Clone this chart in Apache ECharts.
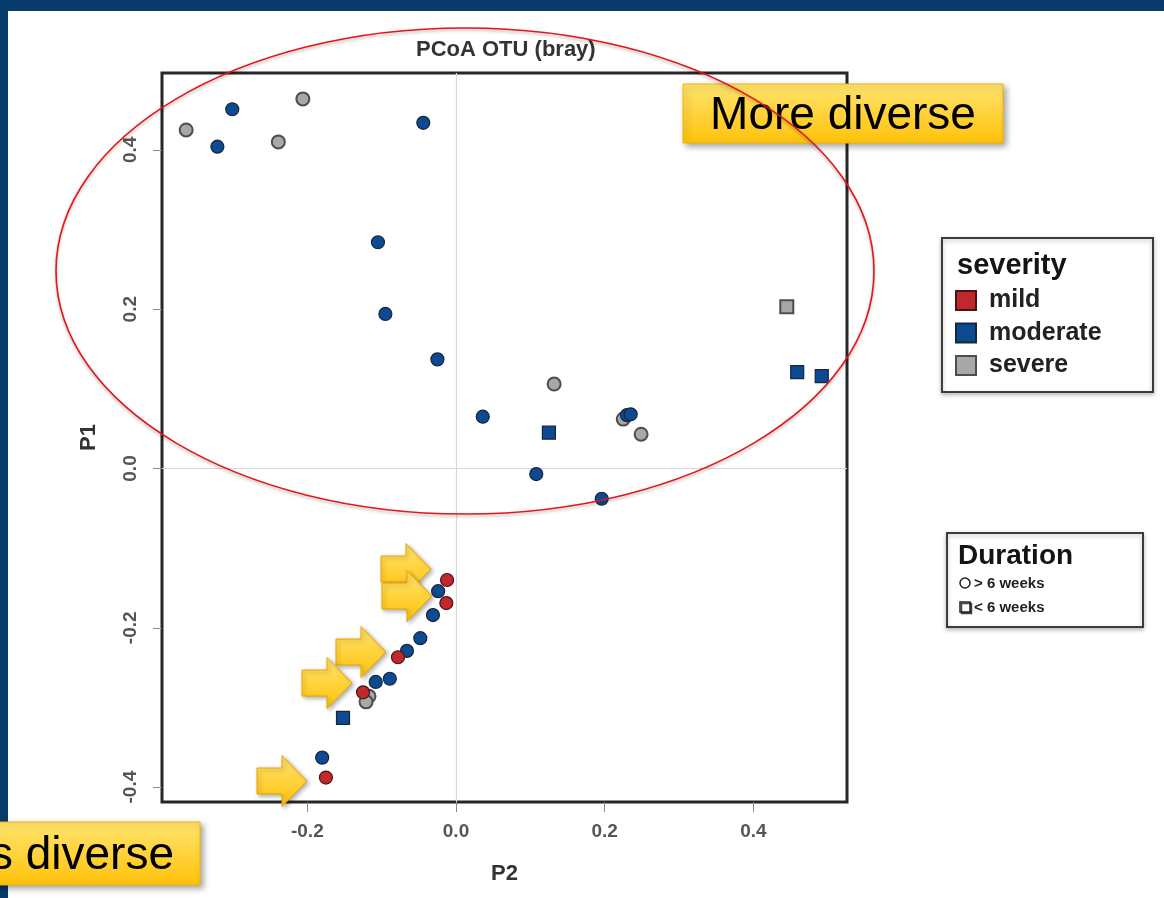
<!DOCTYPE html>
<html>
<head>
<meta charset="utf-8">
<title>PCoA OTU (bray)</title>
<script src="https://cdn.jsdelivr.net/npm/echarts@6/dist/echarts.min.js"></script>
<style>
  html, body { margin: 0; padding: 0; background: #fff; }
  #main { width: 1164px; height: 898px; }
</style>
</head>
<body>
<div id="main"></div>
<script>
// axis ticks
var p2Ticks = [-0.2, 0, 0.2, 0.4];
var p1Ticks = [-0.4, -0.2, 0, 0.2, 0.4];

// points as [P2, P1]
// mild, > 6 weeks
var mildCircle = [[-0.012, -0.140], [-0.013, -0.169], [-0.078, -0.237], [-0.125, -0.281], [-0.175, -0.388]];
// moderate, > 6 weeks
var moderateCircle = [
  [-0.301, 0.451], [-0.321, 0.404], [-0.044, 0.434], [-0.105, 0.284], [-0.095, 0.194],
  [-0.025, 0.137], [0.036, 0.065], [0.108, -0.007], [0.196, -0.038], [0.230, 0.067],
  [0.235, 0.068], [-0.024, -0.154], [-0.031, -0.184], [-0.048, -0.213], [-0.066, -0.229],
  [-0.089, -0.264], [-0.108, -0.268], [-0.180, -0.363]
];
// moderate, < 6 weeks
var moderateSquare = [[0.125, 0.045], [0.459, 0.121], [0.492, 0.116], [-0.152, -0.313]];
// severe, > 6 weeks
var severeCircle = [
  [-0.363, 0.425], [-0.206, 0.464], [-0.239, 0.410], [0.132, 0.106],
  [0.225, 0.062], [0.249, 0.043], [-0.117, -0.286], [-0.121, -0.293]
];
// severe, < 6 weeks
var severeSquare = [[0.445, 0.203]];

var severityNames = ['mild', 'moderate', 'severe'];
var durationLabels = ['> 6 weeks', '< 6 weeks'];

// slide annotations (pixel layout)
var arrowTips = [[431, 569], [432, 596], [386, 652], [352, 683], [307, 781]];

var FONT = 'Liberation Sans, Arial, sans-serif';
var colors = {
  mild: { fill: '#c0282c', border: '#4a1416' },
  moderate: { fill: '#0c4a91', border: '#18253d' },
  severe: { fill: '#a8a8a8', border: '#4e4e4e' }
};

function pointSeries(name, shape, data) {
  return {
    type: 'scatter',
    name: name,
    data: data,
    symbol: shape,
    symbolSize: 13,
    z: 2,
    itemStyle: {
      color: colors[name].fill,
      borderColor: colors[name].border,
      borderWidth: name === 'severe' ? 2 : 1.2,
      opacity: 1
    }
  };
}

var yellow = new echarts.graphic.LinearGradient(0, 0, 0, 1, [
  { offset: 0, color: '#ffe46e' },
  { offset: 1, color: '#ffc20a' }
]);

function arrow(tip) {
  return {
    type: 'polygon',
    x: tip[0], y: tip[1],
    z: 100,
    shape: { points: [[-50, -13], [-25, -13], [-25, -25.5], [0, 0], [-25, 25.5], [-25, 13], [-50, 13]] },
    style: {
      fill: yellow, stroke: '#e9a400', lineWidth: 1,
      shadowBlur: 4, shadowOffsetX: 2, shadowOffsetY: 2, shadowColor: 'rgba(0,0,0,0.3)'
    }
  };
}

var graphics = [
  // slide frame
  { type: 'rect', z: 0, shape: { x: 0, y: 0, width: 1164, height: 11 }, style: { fill: '#063b6c' } },
  { type: 'rect', z: 0, shape: { x: 0, y: 0, width: 8, height: 898 }, style: { fill: '#063b6c' } },
  // severity legend box
  { type: 'rect', z: 1, shape: { x: 942, y: 238, width: 211, height: 154 },
    style: { fill: '#fff', stroke: '#3c3c3c', lineWidth: 2, shadowBlur: 4, shadowOffsetY: 2, shadowColor: 'rgba(0,0,0,0.25)' } },
  { type: 'text', z: 5, style: { text: 'severity', x: 957, y: 266, font: 'bold 29px ' + FONT, fill: '#141414', verticalAlign: 'middle' } },
  // duration legend box
  { type: 'rect', z: 1, shape: { x: 947, y: 533, width: 196, height: 94 },
    style: { fill: '#fff', stroke: '#3c3c3c', lineWidth: 2, shadowBlur: 4, shadowOffsetY: 2, shadowColor: 'rgba(0,0,0,0.25)' } },
  { type: 'text', z: 5, style: { text: 'Duration', x: 958, y: 556, font: 'bold 28px ' + FONT, fill: '#141414', verticalAlign: 'middle' } },
  { type: 'circle', z: 5, shape: { cx: 965, cy: 583, r: 5 }, style: { fill: '#fff', stroke: '#222', lineWidth: 1.5 } },
  { type: 'rect', z: 5, shape: { x: 960, y: 602, width: 10, height: 10 }, style: { fill: '#fff', stroke: '#222', lineWidth: 1.5, shadowOffsetX: 1.5, shadowOffsetY: 1.5, shadowColor: '#444' } },
  { type: 'text', z: 5, style: { text: durationLabels[0], x: 974, y: 584, font: 'bold 15px Liberation Sans Narrow, ' + FONT, fill: '#222', verticalAlign: 'middle' } },
  { type: 'text', z: 5, style: { text: durationLabels[1], x: 974, y: 608, font: 'bold 15px Liberation Sans Narrow, ' + FONT, fill: '#222', verticalAlign: 'middle' } },
  // callout boxes
  { type: 'rect', z: 110, shape: { x: 683, y: 84, width: 320, height: 59 },
    style: { fill: yellow, stroke: '#f0b400', lineWidth: 1, shadowBlur: 6, shadowOffsetX: 3, shadowOffsetY: 3, shadowColor: 'rgba(0,0,0,0.35)' } },
  { type: 'text', z: 111, style: { text: 'More diverse', x: 843, y: 116, font: '46px ' + FONT, fill: '#000', align: 'center', verticalAlign: 'middle' } },
  { type: 'rect', z: 110, shape: { x: -10, y: 822, width: 210, height: 63 },
    style: { fill: yellow, stroke: '#f0b400', lineWidth: 1, shadowBlur: 6, shadowOffsetX: 3, shadowOffsetY: 3, shadowColor: 'rgba(0,0,0,0.35)' } },
  { type: 'text', z: 111, style: { text: 's diverse', x: 174, y: 856, font: '46px ' + FONT, fill: '#000', align: 'right', verticalAlign: 'middle' } }
];
arrowTips.forEach(function (t) { graphics.push(arrow(t)); });
graphics.push({
  type: 'ellipse', z: 120,
  shape: { cx: 465, cy: 271, rx: 409, ry: 243 },
  style: { fill: 'none', stroke: '#e6141b', lineWidth: 1.6, shadowBlur: 3, shadowOffsetY: 2, shadowColor: 'rgba(0,0,0,0.3)' }
});

var chart = echarts.init(document.getElementById('main'));
var fmt = function (v) { return v.toFixed(1); };

var option = {
  animation: false,
  backgroundColor: '#fff',
  textStyle: { fontFamily: FONT },
  title: {
    text: 'PCoA OTU (bray)',
    left: 411, top: 34,
    textStyle: { fontSize: 22, fontWeight: 'bold', color: '#333', fontFamily: FONT }
  },
  legend: {
    data: severityNames,
    orient: 'vertical',
    left: 955, top: 288,
    padding: 0,
    icon: 'rect',
    itemWidth: 20, itemHeight: 19, itemGap: 7.5,
    textStyle: { fontSize: 25, fontWeight: 'bold', color: '#222', padding: [0, 0, 0, 8] }
  },
  grid: {
    left: 162, top: 73, width: 685, height: 729,
    show: true, borderColor: '#262626', borderWidth: 3, backgroundColor: '#fff'
  },
  xAxis: {
    type: 'value', min: -0.3955, max: 0.526,
    name: 'P2', nameLocation: 'middle', nameGap: 61,
    nameTextStyle: { fontSize: 22, fontWeight: 'bold', color: '#333' },
    axisLine: { show: false, onZero: false },
    axisTick: { show: true, length: 10, customValues: p2Ticks, lineStyle: { color: '#888' } },
    axisLabel: { customValues: p2Ticks, formatter: fmt, margin: 20, fontSize: 19, fontWeight: 'bold', color: '#555' },
    splitLine: { show: false }
  },
  yAxis: {
    type: 'value', min: -0.4187, max: 0.4965,
    name: 'P1', nameLocation: 'middle', nameGap: 62,
    nameTextStyle: { fontSize: 22, fontWeight: 'bold', color: '#333' },
    axisLine: { show: false, onZero: false },
    axisTick: { show: true, length: 9, customValues: p1Ticks, lineStyle: { color: '#888' } },
    axisLabel: { customValues: p1Ticks, formatter: fmt, rotate: 90, margin: 22, fontSize: 19, fontWeight: 'bold', color: '#555' },
    splitLine: { show: false }
  },
  series: [
    {
      type: 'scatter', name: 'zero', data: [], z: 1,
      markLine: {
        silent: true, symbol: 'none', z: 1,
        label: { show: false },
        lineStyle: { color: '#d8d8d8', width: 1.2, type: 'solid' },
        data: [{ xAxis: 0 }, { yAxis: 0 }]
      }
    },
    pointSeries('severe', 'circle', severeCircle),
    pointSeries('severe', 'rect', severeSquare),
    pointSeries('moderate', 'circle', moderateCircle),
    pointSeries('moderate', 'rect', moderateSquare),
    pointSeries('mild', 'circle', mildCircle)
  ],
  graphic: graphics
};

chart.setOption(option);
</script>
</body>
</html>
